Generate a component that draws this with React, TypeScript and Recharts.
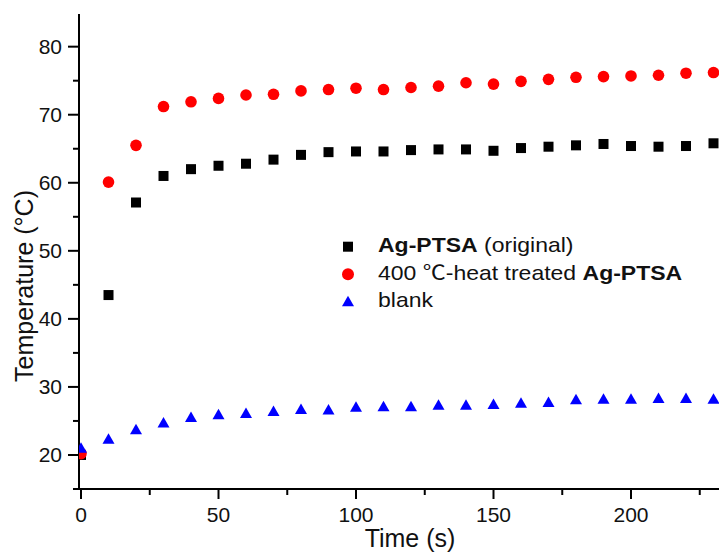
import React from 'react';
import { ScatterChart, Scatter, XAxis, YAxis, Label } from 'recharts';

const time = [0, 10, 20, 30, 40, 50, 60, 70, 80, 90, 100, 110, 120, 130, 140, 150, 160, 170, 180, 190, 200, 210, 220, 230];
const agPtsa = [20.0, 43.5, 57.1, 61.0, 62.0, 62.5, 62.8, 63.4, 64.1, 64.5, 64.6, 64.6, 64.8, 64.9, 64.9, 64.7, 65.1, 65.3, 65.5, 65.7, 65.4, 65.3, 65.4, 65.8];
const heatTreated = [20.2, 60.1, 65.5, 71.2, 71.9, 72.4, 72.9, 73.0, 73.5, 73.7, 73.9, 73.7, 74.0, 74.2, 74.7, 74.5, 74.9, 75.2, 75.5, 75.6, 75.7, 75.8, 76.1, 76.2];
const blank = [21.0, 22.3, 23.7, 24.7, 25.5, 25.9, 26.1, 26.4, 26.7, 26.6, 27.0, 27.1, 27.1, 27.3, 27.3, 27.4, 27.6, 27.7, 28.1, 28.2, 28.2, 28.3, 28.3, 28.2];

const xTicks = [0, 25, 50, 75, 100, 125, 150, 175, 200, 225];
const yTicks = [15, 20, 25, 30, 35, 40, 45, 50, 55, 60, 65, 70, 75, 80];

const FONT = "'Liberation Sans', Arial, 'Noto Sans CJK SC', sans-serif";

const toPoints = (ys: number[]) => time.map((t, i) => ({ x: t, y: ys[i] }));
const agData = toPoints(agPtsa);
const heatData = toPoints(heatTreated);
const blankData = toPoints(blank);

const SquareShape = (p: any) => <rect x={p.cx - 5} y={p.cy - 5} width={10} height={10} fill="#000000" />;
const CircleShape = (p: any) => <circle cx={p.cx} cy={p.cy} r={5.8} fill="#ff0000" />;
const TriShape = (p: any) => (
  <polygon points={`${p.cx},${p.cy - 6} ${p.cx - 6},${p.cy + 4.5} ${p.cx + 6},${p.cy + 4.5}`} fill="#0000ff" />
);

const XTick = (props: any) => {
  const { x, y, payload } = props;
  const major = payload.value % 50 === 0;
  return (
    <g>
      <line x1={x} y1={y} x2={x} y2={y + (major ? 10 : 6)} stroke="#000" strokeWidth={2} />
      {major && (
        <text x={x} y={y + 33} textAnchor="middle" fontSize={21} fontFamily={FONT} fill="#111">
          {payload.value}
        </text>
      )}
    </g>
  );
};

const YTick = (props: any) => {
  const { x, y, payload } = props;
  const major = payload.value % 10 === 0;
  return (
    <g>
      <line x1={x} y1={y} x2={x - (major ? 11 : 6)} y2={y} stroke="#000" strokeWidth={2} />
      {major && (
        <text x={x - 17} y={y + 7.5} textAnchor="end" fontSize={21} fontFamily={FONT} fill="#111">
          {payload.value}
        </text>
      )}
    </g>
  );
};

const LegendBox = () => {
  const rowY = (i: number) => 14.7 + i * 27.5;
  const fs = 20;
  const sx = 1.15;
  return (
    <svg width={380} height={90} style={{ display: 'block' }}>
      <rect x={8 - 5} y={rowY(0) - 5} width={10} height={10} fill="#000" />
      <circle cx={8} cy={rowY(1)} r={6} fill="#ff0000" />
      <polygon points={`8,${rowY(2) - 6} 2,${rowY(2) + 4.5} 14,${rowY(2) + 4.5}`} fill="#0000ff" />
      <g transform={`translate(38 ${rowY(0) + 5.5}) scale(${sx} 1)`}>
        <text x={0} y={0} fontSize={fs} fontFamily={FONT} fill="#111">
          <tspan fontWeight="bold">Ag-PTSA</tspan>
          <tspan> (original)</tspan>
        </text>
      </g>
      <g transform={`translate(38 ${rowY(1) + 5.5}) scale(${sx} 1)`}>
        <text x={0} y={0} fontSize={fs} fontFamily={FONT} fill="#111">
          <tspan>400 </tspan>
          <tspan fontFamily="'Noto Sans CJK SC', sans-serif">℃</tspan>
          <tspan>-heat treated </tspan>
          <tspan fontWeight="bold">Ag-PTSA</tspan>
        </text>
      </g>
      <g transform={`translate(38 ${rowY(2) + 5.5}) scale(${sx} 1)`}>
        <text x={0} y={0} fontSize={fs} fontFamily={FONT} fill="#111">
          blank
        </text>
      </g>
    </svg>
  );
};

const YTitle = () => {
  const cx = 33;
  const cy = 286;
  return (
    <text x={cx} y={cy} transform={`rotate(-90 ${cx} ${cy})`} textAnchor="middle" fontSize={25} fontFamily={FONT} fill="#111">
      Temperature (°C)
    </text>
  );
};

const XTitle = (props: any) => {
  const vb = props.viewBox;
  const cx = vb.x + vb.width / 2;
  return (
    <text x={cx} y={547} textAnchor="middle" fontSize={25} fontFamily={FONT} fill="#111">
      Time (s)
    </text>
  );
};

export default function App() {
  return (
    <div style={{ position: 'fixed', left: 0, top: 0, width: 719, height: 553, overflow: 'hidden', background: '#ffffff' }}>
      <ScatterChart width={760} height={553} margin={{ top: 14, right: 19, bottom: 0, left: 0 }}>
        <XAxis
          xAxisId="top"
          orientation="top"
          type="number"
          dataKey="x"
          domain={[-0.73, 240]}
          allowDataOverflow
          height={0}
          tick={false}
          tickLine={false}
          axisLine={{ stroke: '#000', strokeWidth: 2 }}
        />
        <XAxis
          type="number"
          dataKey="x"
          domain={[-0.73, 240]}
          allowDataOverflow
          ticks={xTicks}
          interval={0}
          height={64}
          tickSize={0}
          tickMargin={0}
          tickLine={false}
          tick={<XTick />}
          axisLine={{ stroke: '#000', strokeWidth: 2 }}
        >
          <Label content={<XTitle />} />
        </XAxis>
        <YAxis
          type="number"
          dataKey="y"
          domain={[15, 84.8]}
          allowDataOverflow
          ticks={yTicks}
          interval={0}
          width={79}
          tickSize={0}
          tickMargin={0}
          tickLine={false}
          tick={<YTick />}
          axisLine={{ stroke: '#000', strokeWidth: 2 }}
        >
          <Label content={<YTitle />} />
        </YAxis>
        <Scatter name="Ag-PTSA (original)" data={agData} shape={SquareShape} isAnimationActive={false} />
        <Scatter name="400 ℃-heat treated Ag-PTSA" data={heatData} shape={CircleShape} isAnimationActive={false} />
        <Scatter name="blank" data={blankData} shape={TriShape} isAnimationActive={false} />
      </ScatterChart>
      <div style={{ position: 'absolute', left: 340, top: 232 }}>
        <LegendBox />
      </div>
    </div>
  );
}
